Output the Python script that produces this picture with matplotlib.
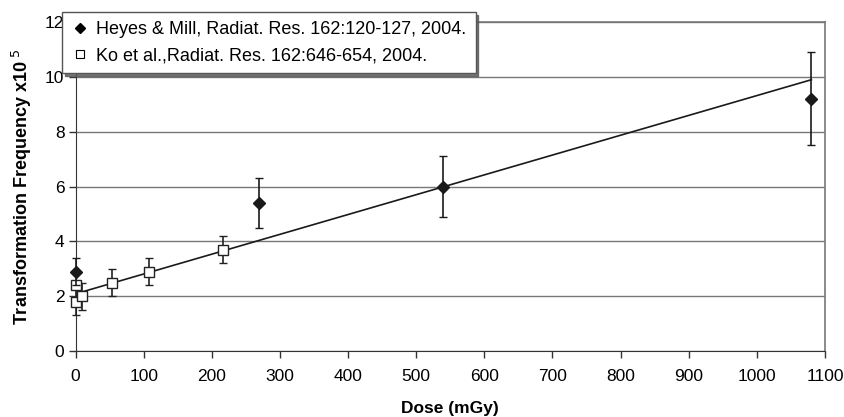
import matplotlib
matplotlib.use("Agg")
import matplotlib.pyplot as plt
from matplotlib.lines import Line2D
import numpy as np

plt.rcParams['font.family'] = ['Liberation Sans', 'DejaVu Sans']

# Heyes & Mill (filled diamonds)
heyes_dose = [0, 270, 540, 1080]
heyes_freq = [2.9, 5.4, 6.0, 9.2]
heyes_err = [0.5, 0.9, 1.1, 1.7]

# Ko et al. (open squares)
ko_dose = [0, 1.2, 10, 54, 108, 216]
ko_freq = [1.8, 2.4, 2.0, 2.5, 2.9, 3.7]
ko_err = [0.5, 0.0, 0.5, 0.5, 0.5, 0.5]

# linear fit
fit_intercept = 2.09
fit_slope = 0.00723
fit_range = [5, 1080]

heyes_label = "Heyes & Mill, Radiat. Res. 162:120-127, 2004."
ko_label = "Ko et al.,Radiat. Res. 162:646-654, 2004."

fig = plt.figure(figsize=(8.44, 4.17), dpi=100)
ax = fig.add_axes([0.0895, 0.158, 0.888, 0.789])

ax.set_xlim(0, 1100)
ax.set_ylim(0, 12)
ax.set_xticks(np.arange(0, 1101, 100))
ax.set_yticks(np.arange(0, 13, 2))
ax.yaxis.grid(True, color="#777777", linewidth=1)
ax.set_axisbelow(True)

for s in ["top", "right"]:
    ax.spines[s].set_color("#777777")
    ax.spines[s].set_linewidth(1.2)
for s in ["left", "bottom"]:
    ax.spines[s].set_color("#333333")

ax.tick_params(direction="out", length=5, width=1, labelsize=12.5, color="#333333", pad=8)
ax.tick_params(axis="y", pad=3)

fx = np.array(fit_range)
ax.plot(fx, fit_intercept + fit_slope * fx, color="#1a1a1a", linewidth=1.2, zorder=2)

ax.errorbar(ko_dose, ko_freq, yerr=ko_err, fmt="s", markersize=6.5,
            markerfacecolor="white", markeredgecolor="#222222", markeredgewidth=1,
            ecolor="#222222", elinewidth=1.2, capsize=3, capthick=1, zorder=3,
            clip_on=False)
ax.errorbar(heyes_dose, heyes_freq, yerr=heyes_err, fmt="D", markersize=6.5,
            color="#1a1a1a", ecolor="#1a1a1a", elinewidth=1.2, capsize=3,
            capthick=1, zorder=4, clip_on=False)

ax.set_xlabel("Dose (mGy)", fontsize=12.5, fontweight="bold", labelpad=12)
ax.set_ylabel("Transformation Frequency x10$^{\\ 5}$", fontsize=13, fontweight="bold", labelpad=8)

handles = [
    Line2D([], [], marker="D", linestyle="none", markersize=5, color="black"),
    Line2D([], [], marker="s", linestyle="none", markersize=6,
           markerfacecolor="white", markeredgecolor="black", markeredgewidth=0.8),
]
leg = ax.legend(handles, [heyes_label, ko_label], loc="upper left",
                bbox_to_anchor=(-0.018, 1.030), fontsize=13, frameon=True,
                fancybox=False, shadow={"color": "#555555", "alpha": 0.8},
                handlelength=1.0, handletextpad=0.4,
                borderpad=0.5, labelspacing=0.5, borderaxespad=0)
leg.get_frame().set_edgecolor("#555555")
leg.get_frame().set_linewidth(1)
leg.set_zorder(10)

plt.savefig("out.png", dpi=100)
